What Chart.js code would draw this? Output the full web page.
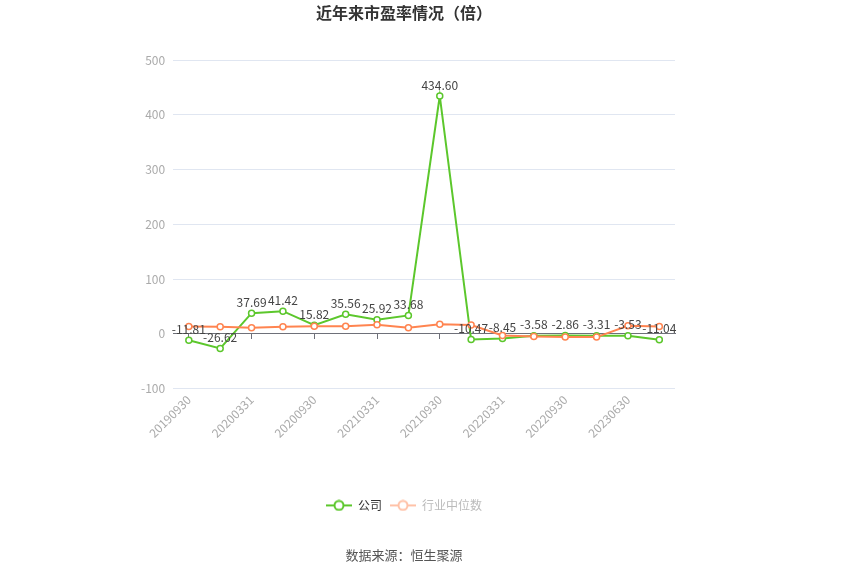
<!DOCTYPE html>
<html>
<head>
<meta charset="utf-8">
<script src="https://cdn.jsdelivr.net/npm/chart.js@4/dist/chart.umd.min.js"></script>
<style>
  html, body { margin: 0; padding: 0; background: #fff; }
  #wrap { width: 850px; height: 575px; }
</style>
</head>
<body>
<div id="wrap"><canvas id="peChart"></canvas></div>
<script>
// report dates (one missing quarter in the source)
const periods = ["20190930", "20191231", "20200331", "20200630", "20200930", "20201231",
  "20210331", "20210630", "20210930", "20211231", "20220331", "20220630",
  "20220930", "20230331", "20230630", "20230930"];

const companyPE = [-11.81, -26.62, 37.69, 41.42, 15.82, 35.56, 25.92, 33.68,
  434.60, -10.47, -8.45, -3.58, -2.86, -3.31, -3.53, -11.04];

// no labels on this one
const industryPE = [13.4, 13, 11, 13, 14, 14, 16.5, 11, 17.6, 16, -3, -5, -6, -6, 14.6, 13.4];

const yTicks = [-100, 0, 100, 200, 300, 400, 500];

const GREEN = "#5cc72c";
const ORANGE = "#ff8450";
const FONT = "'Noto Sans CJK SC', 'Noto Sans', sans-serif";

// legend marker: short line with a hollow circle on it
function legendIcon(color) {
  const c = document.createElement("canvas");
  c.width = 26;
  c.height = 12;
  const g = c.getContext("2d");
  g.strokeStyle = color;
  g.lineWidth = 2;
  g.beginPath();
  g.moveTo(0, 6);
  g.lineTo(26, 6);
  g.stroke();
  g.fillStyle = "#fff";
  g.beginPath();
  g.arc(13, 6, 4.5, 0, Math.PI * 2);
  g.fill();
  g.stroke();
  return c;
}

// value labels above the company points
const pointLabels = {
  id: "pointLabels",
  afterDatasetsDraw(chart) {
    const ctx = chart.ctx;
    const meta = chart.getDatasetMeta(0);
    ctx.save();
    ctx.font = "12px " + FONT;
    ctx.fillStyle = "#444";
    ctx.textAlign = "center";
    ctx.textBaseline = "bottom";
    meta.data.forEach((pt, i) => {
      ctx.fillText(companyPE[i].toFixed(2), pt.x, pt.y - 5);
    });
    ctx.restore();
  }
};

new Chart(document.getElementById("peChart"), {
  type: "line",
  data: {
    labels: periods,
    datasets: [
      {
        label: "公司",
        data: companyPE,
        borderColor: GREEN,
        backgroundColor: "#fff",
        borderWidth: 2,
        pointRadius: 3,
        pointBorderWidth: 1.5,
        pointBackgroundColor: "#fff",
        pointBorderColor: GREEN,
        tension: 0,
        order: 2
      },
      {
        label: "行业中位数",
        data: industryPE,
        borderColor: ORANGE,
        backgroundColor: "#fff",
        borderWidth: 2,
        pointRadius: 3,
        pointBorderWidth: 1.5,
        pointBackgroundColor: "#fff",
        pointBorderColor: ORANGE,
        tension: 0,
        order: 1
      }
    ]
  },
  options: {
    responsive: true,
    maintainAspectRatio: false,
    animation: false,
    layout: { padding: { left: 133, right: 175, top: 0, bottom: 8 } },
    plugins: {
      title: {
        display: true,
        text: "近年来市盈率情况（倍）",
        color: "#333",
        font: { family: FONT, size: 16, weight: "bold" },
        padding: { top: 3, bottom: 38 }
      },
      subtitle: {
        display: true,
        position: "bottom",
        text: "数据来源：恒生聚源",
        color: "#555",
        font: { family: FONT, size: 13 },
        padding: { top: 26, bottom: 4 }
      },
      legend: {
        position: "bottom",
        labels: {
          font: { family: FONT, size: 12 },
          color: "#333",
          usePointStyle: true,
          pointStyleWidth: 26,
          boxHeight: 12,
          padding: 8,
          generateLabels(chart) {
            return chart.data.datasets.map((ds, i) => ({
              text: ds.label,
              fillStyle: "#fff",
              strokeStyle: i === 0 ? GREEN : "#ffc2a8",
              lineWidth: 0,
              pointStyle: legendIcon(i === 0 ? GREEN : "#ffc2a8"),
              fontColor: i === 0 ? "#333" : "#bbb",
              datasetIndex: i
            }));
          }
        }
      },
      tooltip: { enabled: false }
    },
    scales: {
      x: {
        offset: true,
        grid: { display: false },
        border: { display: false },
        afterFit(scale) { scale.height += 55; },
        ticks: {
          autoSkip: false,
          maxRotation: 45,
          minRotation: 45,
          padding: -4,
          color: "#aaa",
          font: { family: FONT, size: 12 },
          callback(val, i) { return i % 2 === 0 ? periods[i] : ""; }
        }
      },
      x0: {
        type: "category",
        axis: "x",
        labels: periods,
        offset: true,
        position: { y: 0 },
        grid: {
          offset: false,
          drawOnChartArea: false,
          drawTicks: true,
          tickLength: 5,
          tickColor: (c) => (c.index % 2 === 0 ? "#6e7079" : "rgba(0,0,0,0)")
        },
        border: { color: "#6e7079", width: 1 },
        ticks: { display: false, autoSkip: false }
      },
      y: {
        min: -100,
        max: 500,
        afterBuildTicks(scale) { scale.ticks = yTicks.map(v => ({ value: v })); },
        grid: { color: "#e0e6f1", drawTicks: false },
        border: { display: false },
        ticks: {
          color: "#aaa",
          padding: 8,
          font: { family: FONT, size: 12 }
        }
      }
    }
  },
  plugins: [pointLabels]
});
</script>
</body>
</html>
